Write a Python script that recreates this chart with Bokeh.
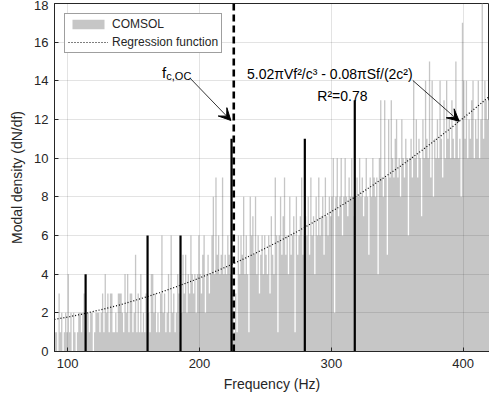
from bokeh.plotting import figure
from bokeh.models import (ColumnDataSource, Span, Label, Arrow, VeeHead, Legend,
                          LegendItem, FixedTicker)
from bokeh.embed import file_html
from bokeh.resources import INLINE

# ---------------- data ----------------
freqs = list(range(90, 420))          # 1 Hz bins, left edges
gray_counts = [
    1, 1, 0, 3, 1, 2, 0, 1, 2, 1,        # 90
    4, 1, 2, 0, 2, 1, 0, 1, 2, 2,        # 100
    1, 2, 3, 1, 2, 2, 1, 2, 2, 0,        # 110
    1, 2, 2, 2, 1, 2, 3, 1, 4, 2,        # 120
    3, 1, 3, 3, 1, 1, 2, 1, 3, 3,        # 130
    3, 2, 1, 4, 2, 4, 1, 3, 3, 1,        # 140
    2, 5, 1, 3, 1, 4, 1, 2, 1, 3,        # 150
    1, 2, 1, 4, 4, 2, 3, 1, 2, 1,        # 160
    3, 6, 2, 3, 1, 2, 4, 1, 6, 2,        # 170
    3, 1, 2, 4, 3, 1, 2, 5, 3, 5,        # 180
    2, 4, 3, 6, 4, 3, 4, 2, 4, 6,        # 190
    4, 3, 5, 6, 2, 4, 5, 3, 4, 6,        # 200
    8, 4, 9, 5, 6, 4, 5, 9, 4, 5,        # 210
    4, 6, 5, 4, 2, 3, 1, 3, 1, 6,        # 220
    4, 6, 5, 8, 4, 6, 4, 1, 8, 6,        # 230
    7, 5, 8, 4, 6, 3, 5, 6, 4, 6,        # 240
    5, 4, 6, 3, 7, 5, 4, 9, 6, 1,        # 250
    6, 8, 5, 7, 9, 5, 6, 4, 8, 5,        # 260
    6, 7, 1, 8, 5, 6, 7, 9, 5, 6,        # 270
    7, 6, 8, 5, 9, 6, 7, 4, 8, 6,        # 280
    9, 6, 7, 8, 5, 9, 7, 6, 8, 7,        # 290
    8, 10, 2, 8, 10, 7, 8, 10, 6, 8,     # 300
    10, 8, 7, 9, 8, 10, 8, 7, 8, 9,      # 310
    8, 10, 8, 9, 7, 8, 10, 8, 5, 9,      # 320
    8, 10, 9, 8, 9, 4, 10, 13, 9, 8,     # 330
    13, 9, 5, 12, 9, 13, 10, 9, 11, 12,  # 340
    9, 10, 8, 12, 10, 9, 11, 10, 6, 10,  # 350
    11, 9, 14, 10, 12, 9, 11, 10, 7, 12, # 360
    10, 14, 11, 10, 15, 9, 14, 8, 11, 10,  # 370
    12, 10, 14, 11, 9, 13, 10, 14, 11, 12, # 380
    10, 13, 11, 10, 15, 12, 10, 11, 8, 17, # 390
    14, 11, 14, 10, 12, 11, 13, 14, 10, 12, # 400
    11, 14, 10, 12, 18, 11, 14, 13, 12, 13, # 410
]
black_freqs = [113.6, 160.6, 185.6, 224.3, 279.9, 317.8]
black_counts = [4, 6, 6, 11, 11, 13]
cutoff_freq = 226
reg_freqs = [90, 100, 110, 120, 130, 140, 150, 160, 170, 180, 190, 200, 210, 220,
             230, 240, 250, 260, 270, 280, 290, 300, 310, 320, 330, 340, 350, 360,
             370, 380, 390, 400, 410, 420]
reg_vals = [1.66, 1.78, 1.92, 2.08, 2.24, 2.42, 2.62, 2.83, 3.05, 3.29, 3.54, 3.80,
            4.08, 4.37, 4.68, 5.00, 5.34, 5.69, 6.05, 6.43, 6.82, 7.23, 7.65, 8.08,
            8.53, 9.00, 9.47, 9.96, 10.47, 10.99, 11.52, 12.07, 12.63, 13.20]
x_ticks = [100, 200, 300, 400]
y_ticks = [0, 2, 4, 6, 8, 10, 12, 14, 16, 18]

FONT = "Liberation Sans"
DARK = "#262626"

p = figure(width=489, height=404, x_range=(90, 420), y_range=(0, 18),
           output_backend="svg", toolbar_location=None,
           min_border_left=54, min_border_right=0, min_border_top=3,
           min_border_bottom=53)
p.background_fill_color = "white"
p.border_fill_color = "white"
p.outline_line_color = DARK
p.outline_line_width = 1

# gray histogram drawn as one stepped area (bin edges from the bin list)
edges = freqs + [freqs[-1] + 1]
heights = gray_counts + [gray_counts[-1]]
src = ColumnDataSource(dict(x=edges, y1=[0] * len(edges), y2=heights))
bars = p.varea_step(x="x", y1="y1", y2="y2", step_mode="after", source=src,
                    fill_color="#c6c6c6")

# black bars
bsrc = ColumnDataSource(dict(x=black_freqs, y0=[0] * len(black_freqs), y1=black_counts))
p.segment(x0="x", y0="y0", x1="x", y1="y1", source=bsrc, line_color="black",
          line_width=2.2)

# regression
reg = p.line(reg_freqs, reg_vals, line_color="black", line_width=1.2, line_dash="1 2")

# cutoff
p.add_layout(Span(location=cutoff_freq, dimension="height", line_color="black",
                  line_width=2.6, line_dash="7 4"))

# axes
for ax in (p.xaxis[0], p.yaxis[0]):
    ax.axis_line_color = DARK
    ax.major_tick_line_color = DARK
    ax.major_tick_in = 4
    ax.major_tick_out = 0
    ax.minor_tick_line_color = None
    ax.major_label_text_font = FONT
    ax.major_label_text_font_size = "13px"
    ax.major_label_text_color = DARK
    ax.axis_label_text_font = FONT
    ax.axis_label_text_font_size = "14px"
    ax.axis_label_text_font_style = "normal"
    ax.axis_label_text_color = DARK
p.xaxis.ticker = FixedTicker(ticks=x_ticks)
p.yaxis.ticker = FixedTicker(ticks=y_ticks)
p.xaxis.axis_label = "Frequency (Hz)"
p.yaxis.axis_label = "Modal density (dN/df)"
p.xaxis.major_label_standoff = 7
p.xaxis.axis_label_standoff = 5
p.yaxis.major_label_standoff = 6
p.yaxis.axis_label_standoff = 6

for g in (p.xgrid[0], p.ygrid[0]):
    g.grid_line_color = DARK
    g.grid_line_alpha = 0.13
    g.level = "annotation"
p.xgrid.ticker = FixedTicker(ticks=x_ticks)
p.ygrid.ticker = FixedTicker(ticks=y_ticks)

# annotations
p.add_layout(Arrow(end=VeeHead(size=12, fill_color="black", line_color="black"),
                   x_start=193.1, y_start=14.12, x_end=223.8, y_end=11.95,
                   line_color="black", line_width=0.8))
p.add_layout(Arrow(end=VeeHead(size=12, fill_color="black", line_color="black"),
                   x_start=361.8, y_start=14.02, x_end=397.0, y_end=11.91,
                   line_color="black", line_width=0.8))
p.add_layout(Label(x=171.5, y=14.45, text="f", text_font=FONT, text_font_size="15px",
                   text_color="black", text_baseline="alphabetic"))
p.add_layout(Label(x=174.8, y=14.23, text="c,OC", text_font=FONT, text_font_size="11px",
                   text_color="black", text_baseline="alphabetic"))
p.add_layout(Label(x=298.9, y=14.33, text="5.02\u03c0Vf\u00b2/c\u00b3 - 0.08\u03c0Sf/(2c\u00b2)",
                   text_font=FONT, text_font_size="14px", text_color="black",
                   text_align="center", text_baseline="alphabetic"))
p.add_layout(Label(x=308.4, y=13.24, text="R\u00b2=0.78", text_font=FONT,
                   text_font_size="14px", text_color="black", text_align="center",
                   text_baseline="alphabetic"))

legend = Legend(items=[LegendItem(label="COMSOL", renderers=[bars]),
                       LegendItem(label="Regression function", renderers=[reg])],
                location="top_left", margin=10, padding=3, spacing=4,
                glyph_width=40, glyph_height=12, label_height=14, label_standoff=4,
                label_text_font=FONT, label_text_font_size="12px",
                label_text_color=DARK, border_line_color="#404040",
                border_line_width=1, background_fill_color="white",
                background_fill_alpha=1.0)
p.add_layout(legend)

open("out.html", "w").write(file_html(p, INLINE))
